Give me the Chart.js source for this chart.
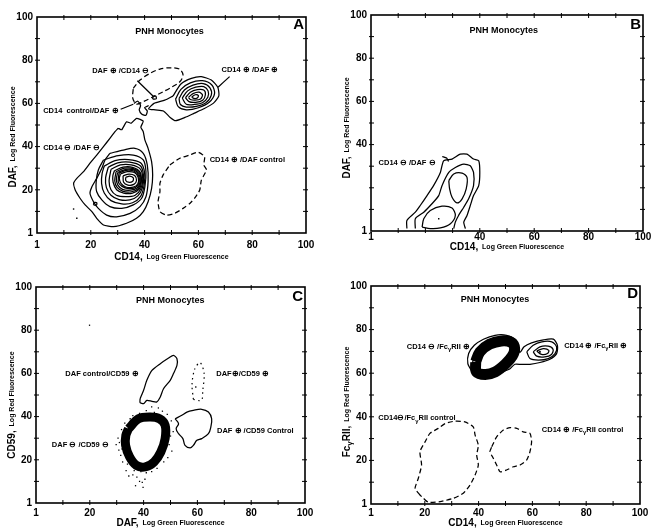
<!DOCTYPE html>
<html lang="en">
<head>
<meta charset="UTF-8">
<title>PNH Monocytes</title>
<script src="https://cdn.jsdelivr.net/npm/chart.js"></script>
<style>
    body { margin: 0; background: #fff; }
    .panel { position: absolute; }
    .panel canvas { display: block; }
</style>
</head>
<body>

<div class="panel" style="left:0;top:0"><canvas id="chartA" width="327" height="265"></canvas></div>
<div class="panel" style="left:327px;top:0"><canvas id="chartB" width="327" height="265"></canvas></div>
<div class="panel" style="left:0;top:265px"><canvas id="chartC" width="327" height="266"></canvas></div>
<div class="panel" style="left:327px;top:265px"><canvas id="chartD" width="327" height="266"></canvas></div>

<script>
// axis ticks (value 0 is labelled "1")
const tickValues = [0, 20, 40, 60, 80, 100];
const tickText = ['1', '20', '40', '60', '80', '100'];
const tickTextB = ['1', '', '40', '60', '80', '100'];

// ---- panel A: CD14 (x) vs DAF (y)
const aNeg1 = [[30.2,48.5],[31.5,47.8],[33.3,51.5],[35,50.8],[37.0,53.1],[39.5,51.8],[38.6,49],[39.5,46.9],[40.1,43.1],[41.3,39.2],[42.6,33.0],[43.0,26.9],[42.6,20.7],[41.3,14.5],[39.5,9.9],[37.0,6.8],[33.3,4.5],[28.4,2.9],[24.7,3.7],[22.2,6.8],[20.4,9.9],[17.9,13.0],[16.0,16.1],[14.2,19.9],[13.6,23.0],[14.8,25.3],[17.3,28.4],[19.7,32.3],[22.2,36.1],[24.7,40.0],[27.1,43.8],[29.0,46.9]];
const aNeg2 = [[27.1,36.9],[32.1,38.4],[36.4,39.2],[39.5,36.9],[41.0,31.5],[41.3,23.8],[40.5,16.8],[38.3,12.2],[34.6,9.1],[29.6,7.5],[25.9,8.3],[22.8,11.4],[21.0,14.5],[19.7,18.4],[20.4,21.4],[22.2,25.3],[24.1,30.0],[25.3,33.8]];
const aNeg3 = [[24.7,33.8],[30.2,35.8],[35.8,36.1],[39.5,33.8],[40.5,28.4],[40.1,21.4],[38.9,16.1],[35.8,13.0],[31.5,11.4],[27.1,12.2],[24.1,15.3],[22.2,19.1],[22.0,23.8],[22.8,29.2]];
const aNeg4 = [[25,31],[29,33.5],[34,34],[38.5,32.5],[40,28],[39.8,22],[38.5,17],[35.5,14],[31.5,13.5],[27.5,15],[25,18.5],[24,23],[24.2,27.5]];
const aNeg5 = [[26.5,30.5],[30,32.5],[34.5,32.8],[38.5,31],[39.6,26.5],[39.2,21],[37.5,17.2],[34.5,15.3],[30.5,15.5],[27.5,17.5],[25.8,21],[25.5,25.5]];
const aNeg6 = [[27.5,29.5],[31,31.5],[35,31.5],[38.5,29.5],[39.3,25],[38.6,20.5],[36.5,17.5],[33,16.8],[29.5,17.5],[27.5,20],[26.8,24]];
const aNeg7 = [[28.8,28.8],[32,30.5],[35.5,30.4],[38.3,28.2],[38.8,24],[38,20.3],[35.5,18.5],[32.2,18.5],[29.6,20],[28.3,23.5],[28.2,26.5]];
const aNeg8 = [[30,28],[33,29.5],[36,29.2],[38,27],[38.3,23.5],[37.2,20.8],[34.8,19.8],[31.8,20.2],[30,22.3],[29.5,25]];
const aNeg9 = [[31,27.3],[33.5,28.4],[36.2,28],[37.6,25.8],[37.5,22.8],[35.8,21.2],[33,21.3],[31.2,23],[30.6,25.2]];
const aNeg10 = [[32,26.5],[34.2,27.3],[36.3,26.6],[37,24.3],[36,22.5],[33.8,22.2],[32.2,23.5]];
const aNeg11 = [[33,25.8],[34.5,26.3],[35.8,25.5],[35.6,24],[34,23.5],[33,24.3]];
const aNeg12 = [[29.4,28.4],[32.5,30],[35.8,29.8],[38.2,27.6],[38.6,23.8],[37.6,20.5],[35.1,19.1],[32,19.3],[29.8,21.1],[28.9,24.2]];
const aNeg13 = [[30.5,27.7],[33.2,29],[36.1,28.6],[37.8,26.4],[37.9,23.1],[36.5,21],[33.9,20.6],[31.5,21.7],[30.2,23.7]];
const aPos1 = [[50.6,63.5],[53.5,69],[57.4,71.6],[61.1,72.4],[64.8,70.8],[67.2,67.5],[67.6,63.5],[65.5,60],[62,57.5],[58.5,55.5],[55,53.5],[51.5,52],[49.5,53.5],[47,56.5],[44,57],[41.5,57.5],[43.5,60],[47.5,61.5]];
const aPos2 = [[51.5,62],[53.5,66.5],[57,69.5],[61.5,70.5],[65,68.5],[66,64.5],[64,60.5],[60,58],[55.5,57],[52.5,58.5]];
const aPos3 = [[52.8,62.3],[54.8,66.2],[58,68.5],[61.8,69.2],[64.3,67.2],[64.8,63.8],[62.8,60.3],[59.2,58.6],[55.5,58.3],[53.3,59.5]];
const aPos4 = [[54,62.5],[56,65.8],[59,67.5],[62,67.8],[63.6,65.8],[63.5,62.8],[61.5,60.3],[58.5,59.5],[55.5,59.6]];
const aPos5 = [[55.2,62.6],[57,65.2],[59.6,66.4],[62,66.2],[62.6,64],[61.6,61.5],[59,60.5],[56.5,60.8]];
const aPos6 = [[56.3,62.8],[58,64.5],[60.2,65.2],[61.5,64],[60.8,62],[58.8,61.5],[57,61.8]];
const aPos7 = [[57.5,63],[58.8,64],[60,63.6],[59.6,62.5],[58.3,62.3]];
const aDafCtrl = [[35.8,67.0],[38.3,70.8],[42.0,73.9],[45.7,75.9],[50.0,76.5],[53.1,75.8],[54.3,73.1],[53.1,70.0],[50.0,67.5],[46.9,65.4],[43.2,63.1],[39.5,60.8],[37.0,59.7],[35.6,62.4]];
const aCd14Ctrl = [[49.4,31.5],[53.1,34.6],[56.8,36.1],[59.9,37.4],[62.3,35.3],[62.0,31.5],[63.0,29.2],[61.1,24.5],[60.5,19.9],[58.6,16.1],[56.8,13.7],[54.3,11.4],[51.2,9.1],[48.1,8.3],[45.7,9.9],[45.0,14.5],[45.7,19.1],[45.7,23.0],[46.9,26.9]];
const aSquiggle = [[36,60],[37.5,61],[38.5,59],[38,57],[39,55],[40.5,54.5],[41,56.5],[40,58],[41.5,59]];
const aSmallLoop1 = [[43,62],[43.2,63.3],[44.2,63.3],[44.3,62.1]];
const aSmallLoop2 = [[21,13],[21.2,14.1],[22.2,14],[22.1,12.9]];
const aDots = [[13.6,11.1],[14.8,6.8]];
const aArrowDaf = [[37.3,70.5],[43.4,63.1]];
const aArrowCtrl = [[31.1,57.3],[35.8,59.6]];
const aArrowPos = [[71.6,72.4],[67.3,67.5]];

// ---- panel B: CD14 (x) vs DAF (y), isotype
const bNeg1 = [[13.2,1.1],[13.2,4.9],[16.3,8.7],[18.1,11.8],[20.6,16.4],[23.0,21.0],[25.5,27.1],[26.7,32.5],[29.8,33.3],[32.8,35.6],[35.3,35.6],[37.7,33.3],[39.6,32.5],[40.0,27.1],[39.6,21.0],[37.7,16.4],[36.5,11.8],[35.3,7.2],[34.1,4.1],[34.7,1.1]];
const bNeg2 = [[16.3,1.1],[16.3,5.7],[19.4,8.7],[22.4,12.6],[24.9,16.4],[26.1,21.0],[28.6,27.1],[31.0,29.4],[34.1,31.0],[36.5,30.2],[37.7,27.1],[37.7,21.0],[35.9,14.9],[34.1,11.0],[32.2,7.2],[31.0,4.1],[30.4,1.1]];
const bNeg3 = [[28.6,23.3],[30.4,26.4],[33.5,26.8],[35.3,24.8],[35.0,19.5],[33.5,14.9],[31.6,13.0],[29.8,15.6],[28.9,19.5]];
const bNeg4 = [[18.8,1.8],[19.4,5.7],[21.8,9.5],[26.1,11.5],[29.8,10.6],[31.0,7.2],[29.2,3.4],[25.5,1.4],[21.8,1.1]];
const bHook = [[26.2,34.5],[27.8,33.8],[28.5,32.2]];
const bDots = [[24.9,5.7]];

// ---- panel C: DAF (x) vs CD59 (y)
const cDafCtrl = [[38.7,48.3],[40.0,52.2],[41.2,56.8],[43.1,61.4],[46.2,64.5],[49.3,67.1],[51.1,68.4],[52.4,66.8],[52.4,63.7],[51.1,59.9],[49.9,56.8],[47.4,52.9],[46.2,49.1],[44.9,46.8],[43.1,47.1],[41.2,47.5],[40.0,46.0],[38.7,46.5]];
const cCd59Ctrl = [[51.7,39.0],[54.2,40.6],[56.1,42.1],[58.5,42.9],[61.6,43.4],[64.1,42.1],[65.3,39.0],[65.0,35.2],[64.1,32.1],[61.6,29.8],[59.8,29.0],[58.5,26.7],[57.3,25.5],[55.4,26.7],[54.6,29.8],[53.0,32.1],[52.1,34.4],[53.0,36.7]];
const cRing = [[34.4,34.4],[38.1,39.0],[42.5,39.8],[45.9,39.0],[48.0,36.0],[48.0,29.8],[46.4,23.6],[43.9,19.0],[40.6,16.7],[37.3,17.4],[34.8,21.3],[33.3,26.7],[33.4,31.3]];
const cPos = [[58.5,48],[58,55],[59,62],[61,65],[62.5,60],[62,52],[61.5,47.5]];
const cSpeckle = [[31.5,22],[32,25],[31,28],[32.5,31],[31.8,34],[33,37],[32.2,19],[30.8,24.5],[33.5,15],[34.5,12.5],[36,13],[37.5,12],[38.5,10],[39.5,9.5],[40.5,11],[41,14],[39,14.5],[36.5,15],[49.5,27],[50,31],[49.2,35],[50.3,38],[48.8,41],[47,42.5],[44,42],[41,42.8],[38.5,41.5],[36,40.5],[35,39],[45.5,44],[43,44.5],[50.5,24],[49,21],[47.5,19],[45,16],[43,14.5],[34,18],[30.5,30],[29.8,27],[51,33],[37,8],[39.8,7.2],[59.4,53.7],[19.9,82.3]];

// ---- panel D: CD14 (x) vs FcgRII (y)
const dNegCtrl = [[18.2,4.1],[16.4,7.2],[17.6,11.8],[18.8,17.9],[18.2,24.0],[20.1,28.5],[21.9,32.4],[25.0,34.7],[27.5,36.9],[31.2,38.0],[34.9,37.7],[38.0,35.4],[38.7,31.6],[39.9,27.0],[39.3,22.4],[39.9,17.9],[38.7,13.3],[36.8,8.7],[34.3,4.9],[30.6,2.6],[25.7,1.1],[21.3,0.8],[19.5,2.6]];
const dPosCtrl = [[44.9,26.3],[46.7,30.8],[49.2,33.9],[51.7,35.0],[54.2,34.7],[56.6,33.1],[59.1,32.4],[59.7,28.5],[59.1,24.0],[57.9,20.2],[55.4,17.9],[52.9,17.1],[50.4,15.6],[48.0,14.8],[46.7,17.9],[45.5,20.9],[44.2,24.0]];
const dOuter = [[37.5,60.9],[36.0,64.4],[36.3,69.0],[38.4,72.8],[41.8,75.6],[46.1,77.4],[50.4,77.4],[53.5,75.6],[54.8,72.1],[55.4,69.5],[56.9,72.1],[59.7,73.9],[64.1,75.3],[67.8,75.6],[69.3,72.8],[69.0,69.0],[66.5,66.4],[62.8,64.9],[59.1,64.1],[56.0,64.0],[53.5,64.1],[51.4,61.8],[48.0,60.3],[44.2,59.1],[40.5,59.1]];
const dThin = [[37.5,63],[38.5,68.5],[41,72.8],[45,75.5],[49.5,76.3],[53.5,75],[54.2,71.5],[52.5,67],[49.5,62.5],[45.5,59.5],[41.5,59],[38.5,60.5]];
const dRing = [[38.9,65.2],[40.5,69.8],[44.1,73.3],[48.5,74.8],[52.2,74.1],[53.4,71.3],[52.5,67.8],[49.9,64.1],[46.2,60.6],[42.5,59.4],[39.2,60.6]];
const dPos2 = [[57.9,69.8],[60.3,72.8],[63.5,74.4],[67.2,74.4],[69.0,72.1],[68.4,69.0],[65.9,66.7],[62.2,66.0],[59.1,66.7]];
const dPos3 = [[60.3,69.8],[62.8,72.1],[65.9,72.4],[67.7,70.9],[67.1,68.6],[64.6,67.5],[61.6,67.8]];
const dPos4 = [[61.6,70.2],[64.0,71.3],[66.1,70.5],[65.6,69.0],[63.4,68.6]];
const dDots = [[62.8,69.8]];

const FONT = "'Liberation Sans', Arial, sans-serif";
Chart.defaults.font.family = FONT;

function loop(pts, width, dash, tension) {
    return {
        data: pts.concat([pts[0]]).map(p => ({x: p[0], y: p[1]})),
        showLine: true, fill: false, borderColor: '#000', borderWidth: width || 1.25,
        borderDash: dash || [], pointRadius: 0, tension: tension === undefined ? 0.3 : tension
    };
}
function open(pts, width) {
    return {
        data: pts.map(p => ({x: p[0], y: p[1]})),
        showLine: true, fill: false, borderColor: '#000', borderWidth: width || 1.25,
        pointRadius: 0, tension: 0.2
    };
}
function dots(pts, r) {
    return {
        data: pts.map(p => ({x: p[0], y: p[1]})),
        showLine: false, pointRadius: r || 1, pointStyle: 'rect',
        backgroundColor: '#000', borderColor: '#000', borderWidth: 0
    };
}

// split "Fc_γRII" into parts with a subscript letter
function splitSub(text, size) {
    const parts = [];
    let buf = '';
    for (let i = 0; i < text.length; i++) {
        if (text[i] === '_' && i + 1 < text.length) {
            if (buf) parts.push({t: buf, s: size});
            buf = '';
            parts.push({t: text[i + 1], s: size * 0.78, dy: size * 0.35});
            i++;
        } else {
            buf += text[i];
        }
    }
    if (buf) parts.push({t: buf, s: size});
    return parts;
}
function drawParts(ctx, parts, x, y, align) {
    let total = 0;
    parts.forEach(p => {
        ctx.font = 'bold ' + p.s + 'px ' + FONT;
        p.w = ctx.measureText(p.t).width;
        total += p.w;
    });
    let cx = align === 'center' ? x - total / 2 : align === 'right' ? x - total : x;
    ctx.textAlign = 'left';
    parts.forEach(p => {
        ctx.font = 'bold ' + p.s + 'px ' + FONT;
        ctx.fillText(p.t, cx, y + (p.dy || 0));
        cx += p.w;
    });
}

function makeDecor(panel) {
    return {
        id: 'decor',
        afterDatasetsDraw(chart) {
            const ctx = chart.ctx, a = chart.chartArea;
            const sx = chart.scales.x, sy = chart.scales.y;
            ctx.save();
            ctx.strokeStyle = '#000';
            ctx.lineWidth = 1.6;
            ctx.strokeRect(a.left, a.top, a.right - a.left, a.bottom - a.top);
            ctx.lineWidth = 1;
            const seg = (x1, y1, x2, y2) => { ctx.beginPath(); ctx.moveTo(x1, y1); ctx.lineTo(x2, y2); ctx.stroke(); };
            for (let v = 10; v < 100; v += 10) {
                const px = sx.getPixelForValue(v), py = sy.getPixelForValue(v);
                seg(px, a.bottom - 3, px, a.bottom + 2);
                seg(px, a.top - 2, px, a.top + 3);
                seg(a.left - 2, py, a.left + 3, py);
                seg(a.right - 3, py, a.right + 2, py);
            }
            ctx.fillStyle = '#000';
            ctx.textBaseline = 'middle';
            panel.labels.forEach(l => {
                drawParts(ctx, splitSub(l.text, l.size || 7.5), sx.getPixelForValue(l.x), sy.getPixelForValue(l.y), l.align || 'left');
            });
            drawParts(ctx, panel.xTitle, (a.left + a.right) / 2, panel.xTitleY, 'center');
            ctx.translate(panel.yTitleX, (a.top + a.bottom) / 2 + panel.yShift);
            ctx.rotate(-Math.PI / 2);
            drawParts(ctx, panel.yTitle, 0, 0, 'center');
            ctx.restore();
        }
    };
}

const bigT = 10, smallT = 7;
const titleCd14 = [{t: 'CD14,', s: bigT}, {t: '  Log Green Fluorescence', s: smallT}];
const titleDafX = [{t: 'DAF,', s: bigT}, {t: '  Log Green Fluorescence', s: smallT}];
const titleDafY = [{t: 'DAF,', s: bigT}, {t: '  Log Red Fluorescence', s: smallT}];
const titleCd59 = [{t: 'CD59,', s: bigT}, {t: '  Log Red Fluorescence', s: smallT}];
const titleFc = [{t: 'Fc', s: bigT}, {t: 'γ', s: 8, dy: 3}, {t: 'RII,', s: bigT}, {t: '  Log Red Fluorescence', s: smallT}];

const panels = [
    {
        id: 'chartA', top: 17, right: 21, yW: 37, xH: 32, xPad: 6, ticks: tickText,
        xTitle: titleCd14, yTitle: titleDafY, xTitleY: 257, yTitleX: 13, yShift: 12,
        datasets: [
            loop(aNeg1, 1.25, [], 0.15), loop(aNeg2), loop(aNeg3), loop(aNeg4), loop(aNeg5), loop(aNeg6),
            loop(aNeg7), loop(aNeg12), loop(aNeg8), loop(aNeg13), loop(aNeg9), loop(aNeg10), loop(aNeg11),
            loop(aPos1, 1.25, [], 0.2), loop(aPos2), loop(aPos3), loop(aPos4), loop(aPos5), loop(aPos6), loop(aPos7),
            loop(aDafCtrl, 1.25, [5, 3]), loop(aCd14Ctrl, 1.25, [5, 3], 0.2),
            open(aSquiggle), loop(aSmallLoop1), loop(aSmallLoop2), dots(aDots, 1),
            open(aArrowDaf), open(aArrowCtrl), open(aArrowPos)
        ],
        labels: [
            {x: 49.3, y: 93.1, text: 'PNH Monocytes', size: 9, align: 'center'},
            {x: 99.3, y: 96.3, text: 'A', size: 15, align: 'right'},
            {x: 20.5, y: 75, text: 'DAF ⊕ /CD14 ⊖'},
            {x: 68.6, y: 75.3, text: 'CD14 ⊕ /DAF ⊕'},
            {x: 2.3, y: 56.5, text: 'CD14  control/DAF ⊕'},
            {x: 2.3, y: 39.4, text: 'CD14 ⊖ /DAF ⊖'},
            {x: 64.2, y: 33.8, text: 'CD14 ⊕ /DAF control'}
        ]
    },
    {
        id: 'chartB', top: 15, right: 11, yW: 44, xH: 34, xPad: 0, ticks: tickTextB,
        xTitle: titleCd14, yTitle: titleDafY, xTitleY: 247, yTitleX: 20, yShift: 5,
        datasets: [
            open(bNeg1), open(bNeg2), loop(bNeg3), loop(bNeg4), open(bHook), dots(bDots, 1)
        ],
        labels: [
            {x: 48.8, y: 92.8, text: 'PNH Monocytes', size: 9, align: 'center'},
            {x: 99.3, y: 95.4, text: 'B', size: 15, align: 'right'},
            {x: 2.8, y: 31.4, text: 'CD14 ⊖ /DAF ⊖'}
        ]
    },
    {
        id: 'chartC', top: 22, right: 22, yW: 36, xH: 28, xPad: 4, ticks: tickText,
        xTitle: titleDafX, yTitle: titleCd59, xTitleY: 258, yTitleX: 12, yShift: 10,
        datasets: [
            loop(cDafCtrl, 1.25, [], 0.25), loop(cCd59Ctrl, 1.25, [], 0.35),
            loop(cRing, 9, [], 0.35), loop(cPos, 1.2, [1.5, 3.5]), dots(cSpeckle, 0.9)
        ],
        labels: [
            {x: 49.9, y: 93.8, text: 'PNH Monocytes', size: 9, align: 'center'},
            {x: 99.3, y: 95.4, text: 'C', size: 15, align: 'right'},
            {x: 10.9, y: 59.9, text: 'DAF control/CD59 ⊕'},
            {x: 67, y: 59.9, text: 'DAF⊕/CD59 ⊕'},
            {x: 67.3, y: 33.2, text: 'DAF ⊕ /CD59 Control'},
            {x: 5.9, y: 26.7, text: 'DAF ⊖ /CD59 ⊖'}
        ]
    },
    {
        id: 'chartD', top: 21, right: 14, yW: 44, xH: 27, xPad: 3, ticks: tickText,
        xTitle: titleCd14, yTitle: titleFc, xTitleY: 258, yTitleX: 20, yShift: 7,
        datasets: [
            loop(dNegCtrl, 1.25, [5, 3], 0.2), loop(dPosCtrl, 1.25, [5, 3], 0.2),
            loop(dOuter, 1.25, [], 0.25), loop(dThin), loop(dRing, 11, [], 0.35),
            loop(dPos2), loop(dPos3), loop(dPos4), dots(dDots, 1.2)
        ],
        labels: [
            {x: 46.1, y: 93.9, text: 'PNH Monocytes', size: 9, align: 'center'},
            {x: 99.3, y: 96.5, text: 'D', size: 15, align: 'right'},
            {x: 13.3, y: 72.1, text: 'CD14 ⊖ /Fc_γRII ⊕'},
            {x: 71.8, y: 72.4, text: 'CD14 ⊕ /Fc_γRII ⊕'},
            {x: 2.7, y: 39.3, text: 'CD14⊖/Fc_γRII control'},
            {x: 63.5, y: 33.9, text: 'CD14 ⊕ /Fc_γRII control'}
        ]
    }
];

panels.forEach(panel => {
    const tickFont = {family: FONT, size: 10, weight: 'bold'};
    const label = v => {
        const i = tickValues.indexOf(v);
        return i >= 0 ? panel.ticks[i] : '';
    };
    new Chart(document.getElementById(panel.id), {
        type: 'scatter',
        data: {datasets: panel.datasets},
        options: {
            responsive: false,
            animation: false,
            events: [],
            layout: {padding: {left: 0, top: panel.top, right: panel.right, bottom: 0}},
            plugins: {legend: {display: false}, tooltip: {enabled: false}},
            scales: {
                x: {
                    type: 'linear', min: 0, max: 100,
                    afterFit: s => { s.height = panel.xH; },
                    grid: {display: false, drawTicks: false},
                    border: {display: false},
                    ticks: {stepSize: 20, autoSkip: false, maxRotation: 0, padding: panel.xPad,
                        color: '#000', font: tickFont, callback: label}
                },
                y: {
                    type: 'linear', min: 0, max: 100,
                    afterFit: s => { s.width = panel.yW; },
                    grid: {display: false, drawTicks: false},
                    border: {display: false},
                    ticks: {stepSize: 20, autoSkip: false, padding: 4,
                        color: '#000', font: tickFont, callback: label}
                }
            }
        },
        plugins: [makeDecor(panel)]
    });
});
</script>

</body>
</html>
